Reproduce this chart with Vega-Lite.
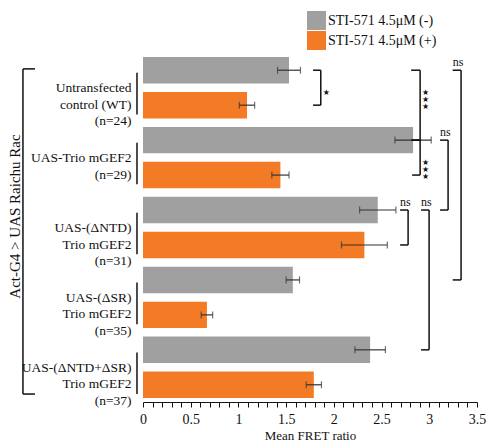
{
  "$schema": "https://vega.github.io/schema/vega-lite/v6.json",
  "width": 334,
  "height": 349,
  "autosize": "none",
  "padding": {"left": 143, "top": 53, "right": 15, "bottom": 46},
  "background": "white",
  "config": {
    "font": "Liberation Serif",
    "view": {"stroke": null},
    "axis": {"labelFont": "Liberation Serif", "titleFont": "Liberation Serif", "labelFlush": false, "labelColor": "#111", "titleColor": "#111"},
    "axisX": {"labelFontSize": 14, "tickSize": 5, "tickColor": "#111", "domainColor": "#111", "titleFontSize": 13, "titleFontWeight": "normal", "grid": false},
    "legend": {"labelFont": "Liberation Serif", "titleFont": "Liberation Serif"},
    "text": {"font": "Liberation Serif"}
  },
  "resolve": {"axis": {"x": "independent"}},
  "datasets": {
    "bars": [
      {"row": "1a", "cond": "STI-571 4.5μM (-)", "mean": 1.53, "err": 0.12},
      {"row": "1b", "cond": "STI-571 4.5μM (+)", "mean": 1.09, "err": 0.08},
      {"row": "2a", "cond": "STI-571 4.5μM (-)", "mean": 2.83, "err": 0.19},
      {"row": "2b", "cond": "STI-571 4.5μM (+)", "mean": 1.44, "err": 0.09},
      {"row": "3a", "cond": "STI-571 4.5μM (-)", "mean": 2.46, "err": 0.19},
      {"row": "3b", "cond": "STI-571 4.5μM (+)", "mean": 2.32, "err": 0.24},
      {"row": "4a", "cond": "STI-571 4.5μM (-)", "mean": 1.57, "err": 0.07},
      {"row": "4b", "cond": "STI-571 4.5μM (+)", "mean": 0.67, "err": 0.06},
      {"row": "5a", "cond": "STI-571 4.5μM (-)", "mean": 2.38, "err": 0.16},
      {"row": "5b", "cond": "STI-571 4.5μM (+)", "mean": 1.79, "err": 0.08}
    ],
    "brackets": [
      {"type": "star", "x": 1.863, "xs": 1.782, "from": "1a", "to": "1b", "mid": "1b", "sig": "★"},
      {"type": "star", "x": 2.904, "xs": 2.81, "from": "1a", "to": "2a", "mid": "1b", "sig": "★|★|★"},
      {"type": "star", "x": 2.904, "xs": 2.82, "from": "2a", "to": "2b", "mid": "2b", "sig": "★|★|★"},
      {"type": "ns", "x": 3.333, "xs": 3.245, "from": "1a", "to": "4a", "mid": "1a", "sig": "ns"},
      {"type": "ns", "x": 3.197, "xs": 3.113, "from": "2a", "to": "3a", "mid": "2a", "sig": "ns"},
      {"type": "ns", "x": 2.778, "xs": 2.694, "from": "3a", "to": "3b", "mid": "3a", "sig": "ns"},
      {"type": "ns", "x": 2.998, "xs": 2.914, "from": "3a", "to": "5a", "mid": "3a", "sig": "ns"}
    ],
    "groups": [
      {"from": "1a", "to": "1b"},
      {"from": "2a", "to": "2b"},
      {"from": "3a", "to": "3b"},
      {"from": "4a", "to": "4b"},
      {"from": "5a", "to": "5b"}
    ],
    "outer": [
      {"from": "1a", "to": "5b"}
    ]
  },
  "layer": [
    {
      "data": {"name": "bars"},
      "mark": {"type": "bar"},
      "encoding": {
        "y": {
          "field": "row", "type": "nominal",
          "scale": {"domain": ["1a","1b","2a","2b","3a","3b","4a","4b","5a","5b"], "paddingInner": 0.243, "paddingOuter": 0.114},
          "axis": {
            "title": "Act-G4 > UAS Raichu Rac",
            "titleFont": "Liberation Serif", "titleFontSize": 15, "titleFontWeight": "normal", "titleColor": "#111",
            "titleX": -129, "titleY": 163, "titleAngle": -90, "titleAlign": "center", "titleBaseline": "middle",
            "domain": false, "ticks": false, "labelPadding": 12, "labelFont": "Liberation Serif", "labelFontSize": 13.5, "labelColor": "#111",
            "labelLineHeight": 16.5, "labelOffset": 18, "labelAlign": "right",
            "labelExpr": "datum.value == '1a' ? ['Untransfected', 'control (WT)', '(n=24)'] : datum.value == '2a' ? ['UAS-Trio mGEF2', '(n=29)'] : datum.value == '3a' ? ['UAS-(ΔNTD)', 'Trio mGEF2', '(n=31)'] : datum.value == '4a' ? ['UAS-(ΔSR)', 'Trio mGEF2', '(n=35)'] : datum.value == '5a' ? ['UAS-(ΔNTD+ΔSR)', 'Trio mGEF2', '(n=37)'] : ''"
          }
        },
        "x": {
          "field": "mean", "type": "quantitative",
          "scale": {"domain": [0, 3.5], "nice": false, "zero": true},
          "axis": {
            "orient": "bottom", "title": "Mean FRET ratio", "titlePadding": 3, "offset": 0,
            "titleFont": "Liberation Serif", "labelFont": "Liberation Serif",
            "values": [0, 0.5, 1, 1.5, 2, 2.5, 3, 3.5], "format": "~g",
            "labelOverlap": false, "labelPadding": 5, "domainWidth": 1.2
          }
        },
        "color": {
          "field": "cond", "type": "nominal",
          "scale": {"domain": ["STI-571 4.5μM (-)", "STI-571 4.5μM (+)"], "range": ["#a0a0a0", "#f47b25"]},
          "legend": {
            "orient": "none", "legendX": 164, "legendY": -42, "title": null,
            "symbolType": "square", "symbolSize": 361, "symbolStrokeWidth": 0,
            "labelFont": "Liberation Serif", "labelFontSize": 14, "labelColor": "#111", "rowPadding": 1, "labelOffset": 2
          }
        }
      }
    },
    {
      "data": {"name": "bars"},
      "mark": {"type": "errorbar", "ticks": {"size": 7}, "color": "#333", "thickness": 1.2},
      "encoding": {
        "y": {"field": "row", "type": "nominal"},
        "x": {
          "field": "mean", "type": "quantitative",
          "axis": {
            "orient": "bottom", "title": null, "offset": 0, "labels": false, "domain": false,
            "values": [0.1,0.2,0.3,0.4,0.6,0.7,0.8,0.9,1.1,1.2,1.3,1.4,1.6,1.7,1.8,1.9,2.1,2.2,2.3,2.4,2.6,2.7,2.8,2.9,3.1,3.2,3.3,3.4]
          }
        },
        "xError": {"field": "err"}
      }
    },
    {
      "data": {"name": "brackets"},
      "mark": {"type": "rule", "strokeWidth": 1.5, "color": "#111"},
      "encoding": {
        "x": {"field": "x", "type": "quantitative", "axis": null},
        "y": {"field": "from", "type": "nominal", "bandPosition": 0.5},
        "y2": {"field": "to", "bandPosition": 0.5}
      }
    },
    {
      "data": {"name": "brackets"},
      "mark": {"type": "rule", "strokeWidth": 1.5, "color": "#111"},
      "encoding": {
        "x": {"field": "xs", "type": "quantitative", "axis": null},
        "x2": {"field": "x"},
        "y": {"field": "from", "type": "nominal", "bandPosition": 0.5}
      }
    },
    {
      "data": {"name": "brackets"},
      "mark": {"type": "rule", "strokeWidth": 1.5, "color": "#111"},
      "encoding": {
        "x": {"field": "xs", "type": "quantitative", "axis": null},
        "x2": {"field": "x"},
        "y": {"field": "to", "type": "nominal", "bandPosition": 0.5}
      }
    },
    {
      "data": {"name": "brackets"},
      "transform": [{"filter": "datum.type == 'star'"}],
      "mark": {"type": "text", "align": "left", "baseline": "middle", "dx": 2, "font": "DejaVu Sans", "fontSize": 8, "lineBreak": "|", "lineHeight": 7, "color": "#111"},
      "encoding": {
        "x": {"field": "x", "type": "quantitative", "axis": null},
        "y": {"field": "mid", "type": "nominal", "bandPosition": 0.05},
        "text": {"field": "sig"}
      }
    },
    {
      "data": {"name": "brackets"},
      "transform": [{"filter": "datum.type == 'ns'"}],
      "mark": {"type": "text", "align": "left", "baseline": "bottom", "dy": -1, "font": "Liberation Serif", "fontSize": 12, "color": "#111"},
      "encoding": {
        "x": {"field": "xs", "type": "quantitative", "axis": null},
        "y": {"field": "from", "type": "nominal", "bandPosition": 0.5},
        "text": {"field": "sig"}
      }
    },
    {
      "data": {"name": "groups"},
      "mark": {"type": "rule", "strokeWidth": 1.5, "color": "#111"},
      "encoding": {
        "x": {"datum": -0.063, "type": "quantitative", "axis": null},
        "y": {"field": "from", "type": "nominal", "bandPosition": 0.6},
        "y2": {"field": "to", "bandPosition": 0.85}
      }
    },
    {
      "data": {"name": "outer"},
      "mark": {"type": "rule", "strokeWidth": 1.5, "color": "#111"},
      "encoding": {
        "x": {"datum": -1.258, "type": "quantitative", "axis": null},
        "y": {"field": "from", "type": "nominal", "bandPosition": 0.45},
        "y2": {"field": "to", "bandPosition": 0.85}
      }
    },
    {
      "data": {"name": "outer"},
      "mark": {"type": "rule", "strokeWidth": 1.5, "color": "#111"},
      "encoding": {
        "x": {"datum": -1.258, "type": "quantitative", "axis": null},
        "x2": {"datum": -1.132},
        "y": {"field": "from", "type": "nominal", "bandPosition": 0.45}
      }
    },
    {
      "data": {"name": "outer"},
      "mark": {"type": "rule", "strokeWidth": 1.5, "color": "#111"},
      "encoding": {
        "x": {"datum": -1.258, "type": "quantitative", "axis": null},
        "x2": {"datum": -1.132},
        "y": {"field": "to", "type": "nominal", "bandPosition": 0.85}
      }
    }
  ]
}
